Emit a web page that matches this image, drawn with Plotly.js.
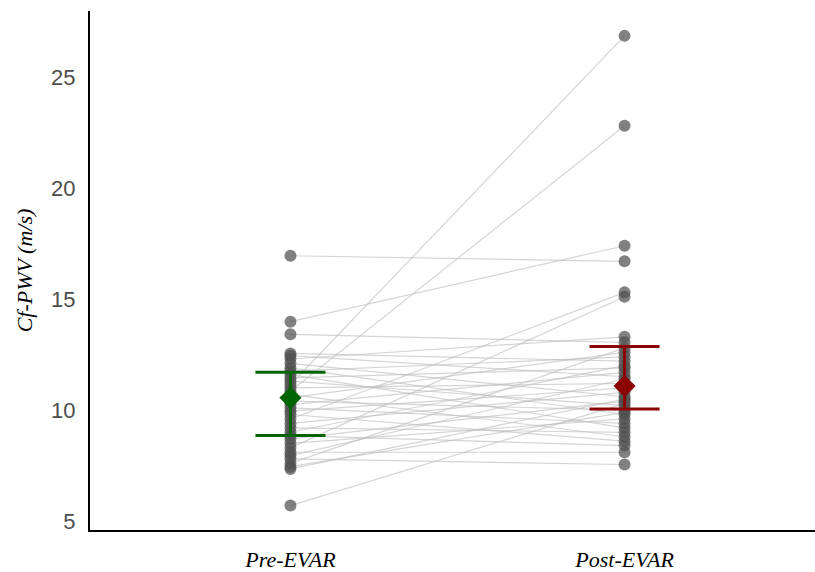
<!DOCTYPE html>
<html>
<head>
<meta charset="utf-8">
<script src="https://cdn.plot.ly/plotly-3.0.1.min.js"></script>
<style>html,body{margin:0;padding:0;background:#fff;}#chart{width:815px;height:572px;}</style>
</head>
<body>
<div id="chart"></div>
<script>
// Categories
const categories = ["Pre-EVAR", "Post-EVAR"];
// Paired patient values (same index = same patient)
const preEVAR  = [16.95, 13.98, 13.41, 12.55, 12.45, 12.30, 12.10, 11.90, 11.75, 11.60, 11.45, 11.30, 11.15, 11.00, 10.85, 10.70, 10.55, 10.40, 10.25, 10.10, 9.95, 9.80, 9.60, 9.40, 9.20, 9.00, 8.85, 8.70, 8.50, 8.30, 8.10, 7.95, 7.80, 7.60, 7.45, 7.35, 5.70];
const postEVAR = [16.70, 17.40, 13.05, 12.20, 11.50, 13.30, 10.60, 9.80, 12.40, 9.20, 11.90, 10.20, 26.85, 11.20, 22.80, 8.80, 12.60, 10.00, 11.70, 9.40, 11.00, 8.60, 15.30, 10.80, 9.00, 12.00, 8.40, 10.40, 9.60, 15.10, 8.10, 11.40, 7.55, 12.80, 9.90, 10.50, 10.30];
// Summary statistics (centre, upper, lower) per group
const centre = [10.55, 11.08];
const upper  = [11.70, 12.86];
const lower  = [8.85, 10.05];
const groupColors = ["#006400", "#8B0000"];

const xPos = [1, 2];
const lx = [], ly = [];
for (let i = 0; i < preEVAR.length; i++) {
  lx.push(xPos[0], xPos[1], null);
  ly.push(preEVAR[i], postEVAR[i], null);
}
const traces = [];
traces.push({
  type: "scatter", mode: "lines", x: lx, y: ly,
  line: {color: "rgba(190,190,190,0.65)", width: 1.2},
  hoverinfo: "skip", showlegend: false
});
traces.push({
  type: "scatter", mode: "markers",
  x: preEVAR.map(() => xPos[0]).concat(postEVAR.map(() => xPos[1])),
  y: preEVAR.concat(postEVAR),
  marker: {color: "rgba(80,80,80,0.72)", size: 12, line: {width: 0}},
  hoverinfo: "skip", showlegend: false
});
for (let g = 0; g < 2; g++) {
  traces.push({
    type: "scatter", mode: "markers",
    x: [xPos[g]], y: [centre[g]],
    marker: {symbol: "diamond", color: groupColors[g], size: 17, line: {width: 0}},
    error_y: {type: "data", symmetric: false, array: [upper[g] - centre[g]], arrayminus: [centre[g] - lower[g]],
      color: groupColors[g], thickness: 3, width: 35},
    hoverinfo: "skip", showlegend: false
  });
}

const layout = {
  width: 815, height: 572,
  margin: {l: 90, r: 0, t: 11, b: 42},
  paper_bgcolor: "#fff", plot_bgcolor: "#fff",
  showlegend: false,
  xaxis: {
    range: [0.4, 2.57], tickvals: xPos, ticktext: categories,
    showgrid: false, zeroline: false,
    showline: true, linecolor: "#000", linewidth: 2.2,
    ticks: "", ticklabelstandoff: 8,
    tickfont: {family: "Liberation Serif, Times New Roman, serif", size: 22, color: "#000", style: "italic"}
  },
  yaxis: {
    range: [4.6, 27.97], tickvals: [5, 10, 15, 20, 25],
    showgrid: false, zeroline: false,
    showline: true, linecolor: "#000", linewidth: 2.2,
    ticks: "", ticklabelstandoff: 8,
    tickfont: {family: "Liberation Sans, Arial, sans-serif", size: 22, color: "#4d4d4d"},
    title: {text: "Cf-PWV (m/s)", standoff: 12,
      font: {family: "Liberation Serif, Times New Roman, serif", size: 22, color: "#000", style: "italic"}}
  }
};
Plotly.newPlot("chart", traces, layout, {displayModeBar: false, staticPlot: true});
</script>
</body>
</html>
